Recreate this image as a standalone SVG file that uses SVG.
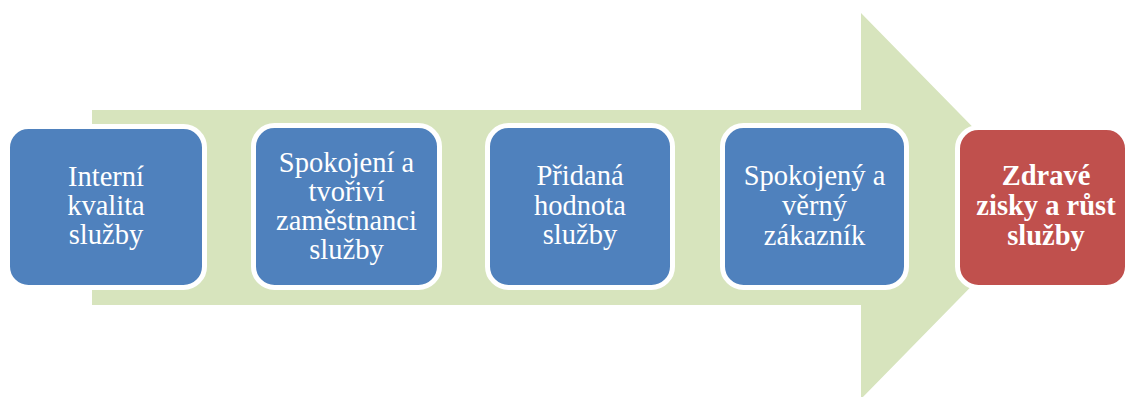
<svg xmlns="http://www.w3.org/2000/svg" width="1128" height="397" viewBox="0 0 1128 397">
<style>
.box{fill:#4F81BD;stroke:#FFFFFF;stroke-width:5}
.red{fill:#C0504D;stroke:#FFFFFF;stroke-width:5}
.t{font-family:"Liberation Serif","Times New Roman",serif;font-size:28.5px;fill:#FFFFFF;text-anchor:middle}
.b{font-weight:bold}
</style>
<rect width="1128" height="397" fill="#FFFFFF"/>
<g id="connectors">
<polygon id="arrow" points="92,110 861,110 861,13 1050,206 861,399 861,305 92,305" fill="#D7E4BD"/>
</g>
<g id="n1">
<rect class="box" x="7.5" y="126.5" width="197" height="161" rx="21"/>
<text class="t" x="106" y="186">Interní</text>
<text class="t" x="106" y="215">kvalita</text>
<text class="t" x="106" y="244">služby</text>
</g>
<g id="n2">
<rect class="box" x="253.5" y="125.5" width="186" height="162" rx="21"/>
<text class="t" x="346.5" y="172">Spokojení a</text>
<text class="t" x="346.5" y="201">tvořiví</text>
<text class="t" x="346.5" y="230">zaměstnanci</text>
<text class="t" x="346.5" y="259">služby</text>
</g>
<g id="n3">
<rect class="box" x="487.5" y="125.5" width="185" height="162" rx="21"/>
<text class="t" x="580" y="185">Přidaná</text>
<text class="t" x="580" y="214.5">hodnota</text>
<text class="t" x="580" y="244">služby</text>
</g>
<g id="n4">
<rect class="box" x="722.5" y="125.5" width="184" height="162" rx="21"/>
<text class="t" x="814.5" y="185">Spokojený a</text>
<text class="t" x="814.5" y="215">věrný</text>
<text class="t" x="814.5" y="245">zákazník</text>
</g>
<g id="n5">
<rect class="red" x="957.5" y="127.5" width="170" height="160" rx="21"/>
<text class="t b" x="1046" y="185">Zdravé</text>
<text class="t b" x="1046" y="215">zisky a růst</text>
<text class="t b" x="1046" y="245">služby</text>
</g>
</svg>
